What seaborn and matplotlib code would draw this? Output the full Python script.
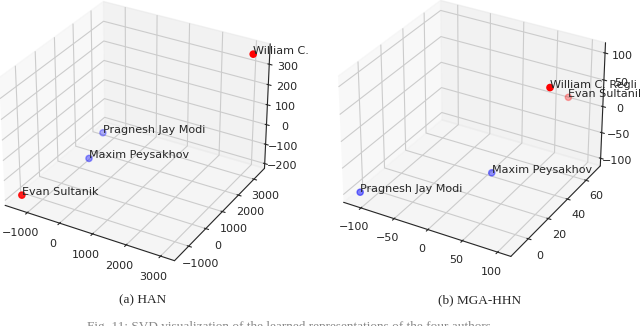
import matplotlib
matplotlib.use("Agg")
import matplotlib.pyplot as plt
import seaborn as sns

# SVD coordinates of four authors
authors = ["William C. Regli", "Pragnesh Jay Modi", "Maxim Peysakhov", "Evan Sultanik"]
colors = ["red", "blue", "blue", "red"]

han_x = [3075, -457, -529, -1375]
han_y = [3350, 1390, 723, -1450]
han_z = [359, -48, -131, -185]

mga_x = [103, -111, 23, 76]
mga_y = [30, -11, 29, 70]
mga_z = [104, -100, -82, 12]

sns.set_style("white")
plt.rcParams["font.family"] = ["DejaVu Sans"]

fig = plt.figure(figsize=(6.4, 3.26), dpi=100)


def draw_panel(rect, xs, ys, zs, zoom=1.0):
    ax = fig.add_axes(rect, projection="3d")
    ax.set_box_aspect(None, zoom=zoom)
    ax.scatter(xs, ys, zs, c=colors, s=20)
    for x, y, z, name in zip(xs, ys, zs, authors):
        ax.text(x, y, z, name, fontsize=8)
    ax.tick_params(labelsize=8, pad=0)
    return ax


ax1 = draw_panel([-0.057, 0.142, 0.53, 0.925], han_x, han_y, han_z)
ax1.set_xticks([-1000, 0, 1000, 2000, 3000])
ax1.set_yticks([-1000, 0, 1000, 2000, 3000])
ax1.set_zticks([-200, -100, 0, 100, 200, 300])

ax2 = draw_panel([0.481, 0.113, 0.506, 0.994], mga_x, mga_y, mga_z, zoom=0.92)
ax2.set_xticks([-100, -50, 0, 50, 100])
ax2.set_yticks([0, 20, 40, 60])
ax2.set_zticks([-100, -50, 0, 50, 100])

fig.text(0.222, 0.08, "(a) HAN", ha="center", va="center",
         family="Liberation Serif", fontsize=9.5)
fig.text(0.75, 0.08, "(b) MGA-HHN", ha="center", va="center",
         family="Liberation Serif", fontsize=9.5)
fig.text(0.136, 0.0155,
         "Fig. 11: SVD visualization of the learned representations of the four authors.",
         ha="left", va="top", family="Liberation Serif", fontsize=9.5, color="#888888")

fig.savefig("out.png", dpi=100)
